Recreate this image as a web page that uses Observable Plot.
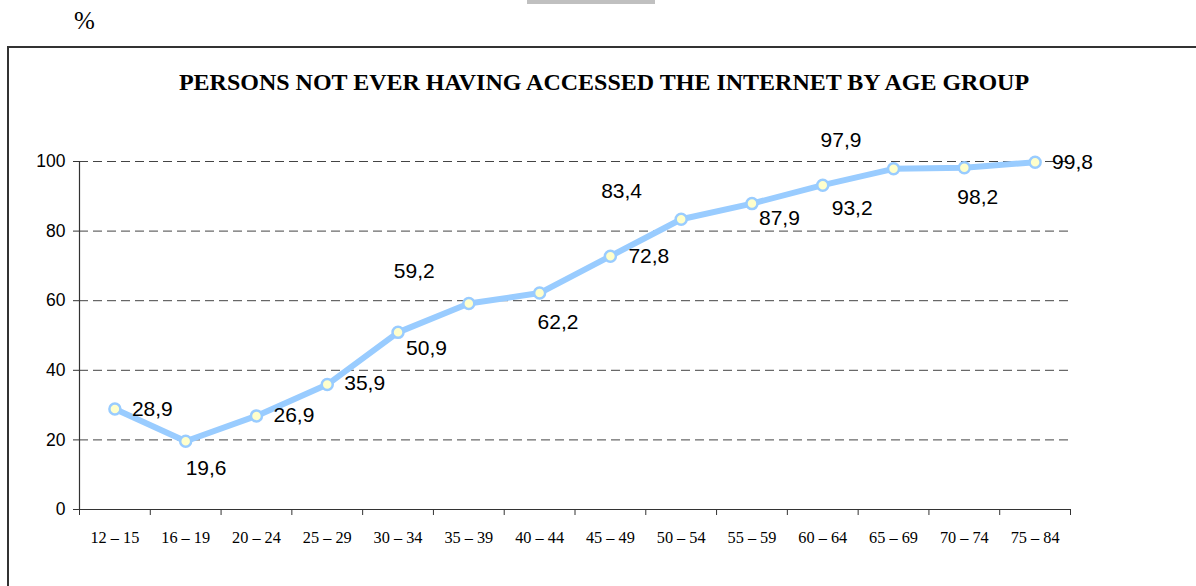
<!DOCTYPE html>
<html>
<head>
<meta charset="utf-8">
<script src="https://cdn.jsdelivr.net/npm/d3@7"></script>
<script src="https://cdn.jsdelivr.net/npm/@observablehq/plot@0.6"></script>
<style>
  html, body { margin: 0; padding: 0; background: #fff; overflow: hidden; }
  #page { position: relative; width: 1196px; height: 586px; overflow: hidden; }
  #unit { position: absolute; left: 74px; top: 6px; font: 25px "Liberation Serif", "Times New Roman", serif; line-height: 30px; color: #000; }
  #topbar { position: absolute; left: 527px; top: 0; width: 128px; height: 4px; background: #c0c0c0; }
  #frame { position: absolute; left: 7px; top: 46px; right: -10px; bottom: -10px; border: 2px solid #333; }
  #title { position: absolute; left: 104px; width: 1000px; top: 69px; text-align: center;
           font: bold 24px "Liberation Serif", "Times New Roman", serif; line-height: 26px; color: #000; }
  #chart { position: absolute; left: 0; top: 120px; }
</style>
</head>
<body>
<div id="page">
  <div id="unit">%</div>
  <div id="topbar"></div>
  <div id="frame"></div>
  <div id="title">PERSONS NOT EVER HAVING ACCESSED THE INTERNET BY AGE GROUP</div>
  <div id="chart"></div>
</div>
<script>
// Age groups along the horizontal axis
const ageGroups = ["12 – 15", "16 – 19", "20 – 24", "25 – 29", "30 – 34", "35 – 39", "40 – 44",
                   "45 – 49", "50 – 54", "55 – 59", "60 – 64", "65 – 69", "70 – 74", "75 – 84"];
// Share of persons who have never accessed the internet, %
const shareNeverOnline = [28.9, 19.6, 26.9, 35.9, 50.9, 59.2, 62.2, 72.8, 83.4, 87.9, 93.2, 97.9, 98.2, 99.8];
// Value axis ticks
const yTicks = [0, 20, 40, 60, 80, 100];

// Where each value label sits relative to its point [dx, dy], in pixels
const labelOffsets = [
  [17, 0], [0, 27], [17, -1], [17, -1], [8, 16], [-75, -32], [-2, 29],
  [18, 0], [-80, -28], [7, 15], [9, 23], [-73, -29], [-7, 30], [17, 0]
];

const rows = ageGroups.map((g, i) => ({group: g, pos: i + 0.5, value: shareNeverOnline[i]}));
const fmt = v => v.toFixed(1).replace(".", ",");

const sans = "'Liberation Sans', Arial, sans-serif";
const serif = "'Liberation Serif', 'Times New Roman', serif";

const labelMarks = rows.map((d, i) =>
  Plot.text([d], {
    x: "pos", y: "value", text: r => fmt(r.value),
    dx: labelOffsets[i][0], dy: labelOffsets[i][1],
    textAnchor: "start", fontSize: 21, fontFamily: sans, fill: "#000"
  })
);

const chart = Plot.plot({
  width: 1196,
  height: 440,
  marginLeft: 79,
  marginRight: 126,
  marginTop: 41,
  marginBottom: 51,
  style: {background: "transparent", color: "#000", overflow: "visible"},
  x: {type: "linear", domain: [0, ageGroups.length]},
  y: {domain: [0, 100]},
  marks: [
    Plot.ruleY(yTicks.filter(t => t > 0), {stroke: "#444", strokeWidth: 1, strokeDasharray: "9,5"}),
    Plot.axisY(yTicks, {tickSize: 6, tickPadding: 8, fontSize: 17.5, fontFamily: sans, stroke: "#333", label: null}),
    // tick marks on the category boundaries
    Plot.axisX(d3.range(ageGroups.length + 1), {tickSize: 6, tickFormat: () => "", stroke: "#333", label: null}),
    // category names centred in each band
    Plot.axisX(rows.map(d => d.pos), {
      tickSize: 0, tickPadding: 22, fontSize: 16.3, fontFamily: serif, label: null,
      tickFormat: p => ageGroups[Math.floor(p)]
    }),
    Plot.ruleX([0], {stroke: "#333", strokeWidth: 1.2}),
    Plot.ruleY([0], {stroke: "#333", strokeWidth: 1.2}),
    Plot.line(rows, {x: "pos", y: "value", stroke: "#99ccff", strokeWidth: 6, strokeLinejoin: "round"}),
    Plot.dot(rows, {x: "pos", y: "value", r: 5.5, fill: "#ffffcc", stroke: "#99ccff", strokeWidth: 2.5}),
    ...labelMarks
  ]
});
document.getElementById("chart").appendChild(chart);
</script>
</body>
</html>
